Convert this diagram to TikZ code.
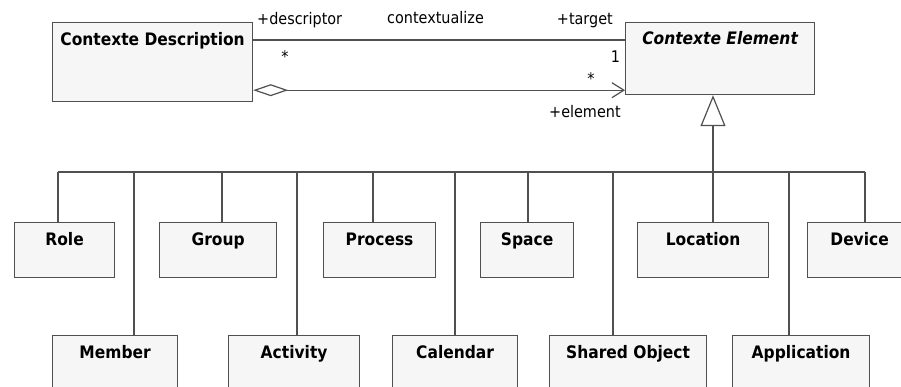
\documentclass[tikz,border=0pt]{standalone}
\usepackage{fontspec}
\setmainfont{DejaVu Sans}[FakeStretch=0.9]
\usetikzlibrary{arrows.meta}
\definecolor{linec}{RGB}{80,80,80}
\definecolor{boxfill}{RGB}{246,246,246}
\begin{document}
\begin{tikzpicture}[x=1pt,y=-1pt,
  cls/.style={draw=linec, fill=boxfill, line width=1.2pt, inner sep=0pt, anchor=north west},
  cname/.style={font=\fontsize{17.2}{20}\selectfont\bfseries, anchor=base, inner sep=0pt},
  lbl/.style={font=\fontsize{16}{19}\selectfont, inner sep=0pt},
  conn/.style={draw=linec, line width=1.2pt}]
\useasboundingbox[fill=white] (0,0) rectangle (901,387);
% main classes
\node[cls, minimum width=200pt, minimum height=79pt] (cd) at (52,22) {};
\node[cname] at ([yshift=-24pt]cd.north) {Contexte Description};
\node[cls, minimum width=189pt, minimum height=72pt] (ce) at (625,22) {};
\node[cname] at ([yshift=-23pt]ce.north) {\itshape Contexte Element};
% top row
\node[cls, minimum width=100pt, minimum height=55pt] (role) at (14,222) {};
\node[cname] at ([yshift=-23pt]role.north) {Role};
\node[cls, minimum width=117pt, minimum height=55pt] (group) at (159,222) {};
\node[cname] at ([yshift=-23pt]group.north) {Group};
\node[cls, minimum width=112pt, minimum height=55pt] (process) at (323,222) {};
\node[cname] at ([yshift=-23pt]process.north) {Process};
\node[cls, minimum width=93pt, minimum height=55pt] (space) at (480,222) {};
\node[cname] at ([yshift=-23pt]space.north) {Space};
\node[cls, minimum width=131pt, minimum height=55pt] (location) at (637,222) {};
\node[cname] at ([yshift=-23pt]location.north) {Location};
\node[cls, minimum width=104pt, minimum height=55pt] (device) at (807,222) {};
\node[cname] at ([yshift=-23pt]device.north) {Device};
% bottom row
\node[cls, minimum width=125pt, minimum height=70pt] (member) at (52,335) {};
\node[cname] at ([yshift=-23pt]member.north) {Member};
\node[cls, minimum width=131pt, minimum height=70pt] (activity) at (228,335) {};
\node[cname] at ([yshift=-23pt]activity.north) {Activity};
\node[cls, minimum width=125pt, minimum height=70pt] (calendar) at (392,335) {};
\node[cname] at ([yshift=-23pt]calendar.north) {Calendar};
\node[cls, minimum width=157pt, minimum height=70pt] (shared) at (549,335) {};
\node[cname] at ([yshift=-23pt]shared.north) {Shared Object};
\node[cls, minimum width=137pt, minimum height=70pt] (application) at (732,335) {};
\node[cname] at ([yshift=-23pt]application.north) {Application};
% associations
\draw[conn] ([yshift=-18pt]cd.north east) -- ([yshift=-18pt]ce.north west);
\draw[conn, {Diamond[open, length=35pt, width=12pt, line width=1.2pt]}-{Straight Barb[length=12pt, width=15pt, line width=1.2pt]}]
  ([yshift=12pt]cd.south east) -- ([yshift=12pt]cd.south east -| ce.west);
\node[lbl, anchor=base west] at (257,25) {+descriptor};
\node[lbl, anchor=base west] at (387,24) {contextualize};
\node[lbl, anchor=base east] at (613,25) {+target};
\node[lbl, anchor=base] at (615.5,63) {1};
\node[lbl] at (285,57) {*};
\node[lbl] at (591,79) {*};
\node[lbl, anchor=base west] at (549,118) {+element};
% generalization bus
\coordinate (tRole) at (58,172);
\coordinate (tMember) at (134,172);
\coordinate (tGroup) at (222,172);
\coordinate (tActivity) at (297,172);
\coordinate (tProcess) at (373,172);
\coordinate (tCalendar) at (455,172);
\coordinate (tSpace) at (528,172);
\coordinate (tShared) at (613,172);
\coordinate (tLocation) at (713,172);
\coordinate (tApplication) at (789,172);
\coordinate (tDevice) at (865,172);
\draw[conn] (tRole) -- (tDevice);
\draw[conn, -{Triangle[open, length=31pt, width=25pt, line width=1.2pt]}] (tLocation) -- (tLocation |- ce.south);
\foreach \t/\b in {tRole/role, tMember/member, tGroup/group, tActivity/activity, tProcess/process,
  tCalendar/calendar, tSpace/space, tShared/shared, tLocation/location, tApplication/application, tDevice/device}
  \draw[conn] (\t) -- (\t |- \b.north);
\end{tikzpicture}
\end{document}
